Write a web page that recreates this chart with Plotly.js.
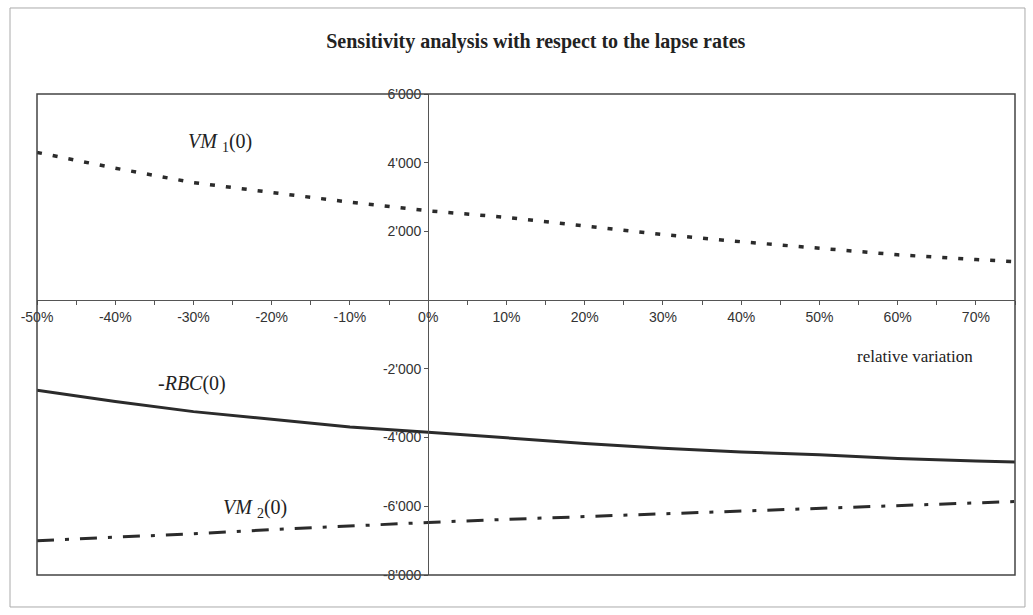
<!DOCTYPE html>
<html>
<head>
<meta charset="utf-8">
<script src="https://cdn.plot.ly/plotly-3.0.1.min.js"></script>
<style>
  html, body { margin: 0; padding: 0; background: #fff; }
  #chart { width: 1033px; height: 615px; }
</style>
</head>
<body>
<div id="chart"></div>
<script>
// Relative variation of the lapse rates (%)
const variation = [-50, -40, -30, -20, -10, 0, 10, 20, 30, 40, 50, 60, 70, 75];
// Series values
const vm1 = [4300, 3840, 3420, 3130, 2850, 2600, 2410, 2160, 1910, 1700, 1510, 1320, 1180, 1120];
const negRbc = [-2620, -2950, -3245, -3470, -3690, -3845, -4010, -4170, -4310, -4420, -4500, -4610, -4680, -4710];
const vm2 = [-7000, -6910, -6800, -6680, -6570, -6470, -6380, -6300, -6230, -6150, -6070, -5990, -5900, -5860];

// Tick labels
const xTickVals = [-50, -40, -30, -20, -10, 0, 10, 20, 30, 40, 50, 60, 70];
const xTickText = ['-50%', '-40%', '-30%', '-20%', '-10%', '0%', '10%', '20%', '30%', '40%', '50%', '60%', '70%'];
const yTickVals = [6000, 4000, 2000, -2000, -4000, -6000, -8000];
const yTickText = ["6'000", "4'000", "2'000", "-2'000", "-4'000", "-6'000", "-8'000"];

const title = 'Sensitivity analysis with respect to the lapse rates';
const seriesLabels = ['<i>VM</i> <sub>1</sub>(0)', '-<i>RBC</i>(0)', '<i>VM</i> <sub>2</sub>(0)'];
const xAxisLabel = 'relative variation';

const ink = '#2b2b2b';
const traces = [
  { x: variation, y: vm1, type: 'scatter', mode: 'lines', name: 'VM1(0)',
    line: { color: ink, width: 3.5, dash: '5px,11px' } },
  { x: variation, y: negRbc, type: 'scatter', mode: 'lines', name: '-RBC(0)',
    line: { color: ink, width: 3 } },
  { x: variation, y: vm2, type: 'scatter', mode: 'lines', name: 'VM2(0)',
    line: { color: ink, width: 3, dash: '17px,11px,4px,11px' } }
];

const tickFont = { family: 'Liberation Sans, Arial, sans-serif', size: 14, color: '#333' };
const serif = 'Liberation Serif, Times New Roman, serif';

const layout = {
  width: 1033, height: 615,
  margin: { l: 37, r: 18, t: 94, b: 40 },
  paper_bgcolor: '#fff', plot_bgcolor: '#fff',
  showlegend: false,
  title: { text: '<b>' + title + '</b>', x: 0.51, xref: 'paper', y: 0.934, yanchor: 'middle',
           font: { family: serif, size: 20, color: '#222' } },
  xaxis: {
    range: [-50, 75], anchor: 'free', position: 8/14,
    showgrid: false, zeroline: false, showline: true, linecolor: '#555', linewidth: 1,
    tickvals: xTickVals, ticktext: xTickText, ticks: 'outside', ticklen: 4, tickcolor: '#555',
    minor: { dtick: 5, tick0: 0, ticks: 'outside', ticklen: 4, tickcolor: '#555', showgrid: false },
    tickfont: tickFont, fixedrange: true
  },
  yaxis: {
    range: [-8000, 6000], anchor: 'free', position: 0.4,
    showgrid: false, zeroline: false, showline: true, linecolor: '#555', linewidth: 1,
    tickvals: yTickVals, ticktext: yTickText, ticks: 'outside', ticklen: 4, tickcolor: '#555',
    tickfont: tickFont, fixedrange: true
  },
  shapes: [
    { type: 'rect', xref: 'paper', yref: 'paper', x0: 0, x1: 1, y0: 0, y1: 1,
      line: { color: '#444', width: 1.5 } },
    { type: 'rect', xref: 'paper', yref: 'paper', x0: -0.0276, x1: 1.0102, y0: -0.0665, y1: 1.1788,
      line: { color: '#aaa', width: 1 } }
  ],
  annotations: [
    { xref: 'paper', yref: 'paper', x: 0.187, y: 0.900, xanchor: 'center', yanchor: 'middle',
      text: seriesLabels[0], showarrow: false, font: { family: serif, size: 20, color: '#222' } },
    { xref: 'paper', yref: 'paper', x: 0.158, y: 0.399, xanchor: 'center', yanchor: 'middle',
      text: seriesLabels[1], showarrow: false, font: { family: serif, size: 20, color: '#222' } },
    { xref: 'paper', yref: 'paper', x: 0.223, y: 0.139, xanchor: 'center', yanchor: 'middle',
      text: seriesLabels[2], showarrow: false, font: { family: serif, size: 20, color: '#222' } },
    { xref: 'paper', yref: 'paper', x: 0.898, y: 0.455, xanchor: 'center', yanchor: 'middle',
      text: xAxisLabel, showarrow: false, font: { family: serif, size: 17, color: '#222' } }
  ]
};

Plotly.newPlot('chart', traces, layout, { staticPlot: true, displayModeBar: false });
</script>
</body>
</html>
